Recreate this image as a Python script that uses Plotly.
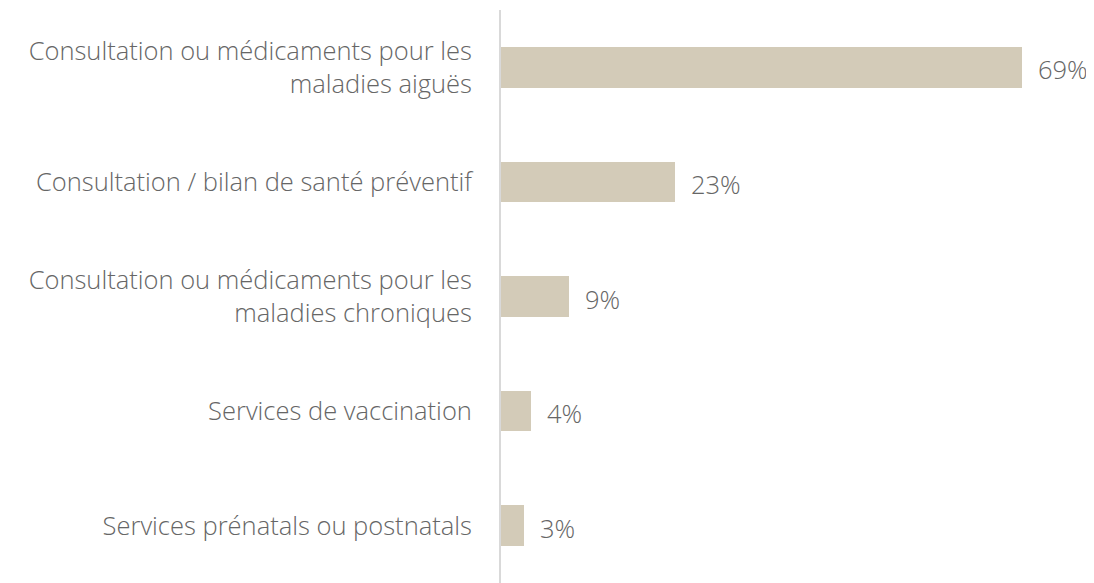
import plotly.graph_objects as go

categories = [
    "Consultation ou médicaments pour les<br>maladies aiguës",
    "Consultation / bilan de santé préventif",
    "Consultation ou médicaments pour les<br>maladies chroniques",
    "Services de vaccination",
    "Services prénatals ou postnatals",
]
values = [69, 23, 9, 4, 3]
value_labels = ["69%", "23%", "9%", "4%", "3%"]

BAR_COLOR = "#D3CBB8"
TEXT_COLOR = "#666666"
FONT = "Open Sans"

fig = go.Figure(
    go.Bar(
        x=values,
        y=categories,
        orientation="h",
        marker=dict(color=BAR_COLOR, line=dict(width=0)),
        width=0.355,
        hoverinfo="skip",
    )
)

for cat, v, lab in zip(categories, values, value_labels):
    fig.add_annotation(
        x=v, y=cat, text=lab, showarrow=False, xanchor="left", xshift=14,
        yshift=-2,
        font=dict(family=FONT, size=25.5, color=TEXT_COLOR, weight=300),
    )

# page body has an 8px margin, so the figure is sized/offset to compensate
fig.update_layout(
    width=1086, height=575,
    margin=dict(l=493, r=0, t=2, b=0, autoexpand=False),
    plot_bgcolor="white", paper_bgcolor="white",
    showlegend=False,
    font=dict(family=FONT, size=25.5, color=TEXT_COLOR, weight=300),
    bargap=0,
)
fig.update_xaxes(range=[0, 78.5], visible=False, showgrid=False, zeroline=False,
                 automargin=False)
fig.update_yaxes(
    autorange="reversed", showline=True, linecolor="#D9D9D9", linewidth=2,
    ticks="", ticklabelstandoff=22, showgrid=False, zeroline=False,
    automargin=False,
    tickfont=dict(family=FONT, size=25.5, color=TEXT_COLOR, weight=300),
)

fig.write_html("out.html")
